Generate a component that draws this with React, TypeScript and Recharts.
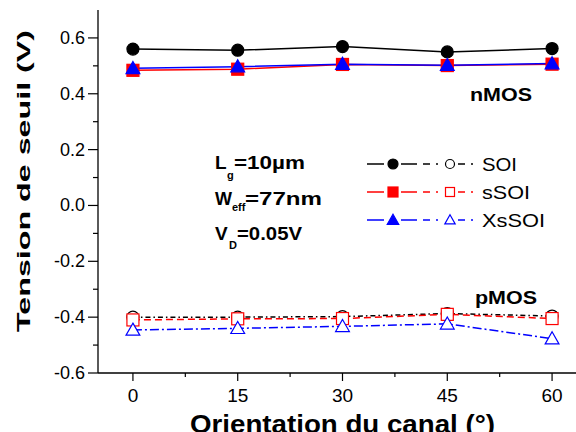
import React from "react";
import { LineChart, Line, XAxis, YAxis } from "recharts";

// Orientation du canal (°)
const angles = [0, 15, 30, 45, 60];

// nMOS threshold voltages (V)
const soiN = [0.56, 0.556, 0.569, 0.55, 0.562];
const ssoiN = [0.484, 0.488, 0.505, 0.501, 0.506];
const xssoiN = [0.491, 0.497, 0.506, 0.502, 0.508];

// pMOS threshold voltages (V)
const soiP = [-0.4, -0.4, -0.398, -0.387, -0.396];
const ssoiP = [-0.41, -0.406, -0.405, -0.39, -0.405];
const xssoiP = [-0.446, -0.44, -0.433, -0.424, -0.477];

const xTicks = [0, 7.5, 15, 22.5, 30, 37.5, 45, 52.5, 60];
const yTicks = [-0.6, -0.5, -0.4, -0.3, -0.2, -0.1, 0, 0.1, 0.2, 0.3, 0.4, 0.5, 0.6];

const FONT = "'Liberation Sans', Arial, sans-serif";
const BLACK = "#000000";
const RED = "#ff0000";
const BLUE = "#0000ff";

const data = angles.map((a, i) => ({
  angle: a,
  soiN: soiN[i],
  ssoiN: ssoiN[i],
  xssoiN: xssoiN[i],
  soiP: soiP[i],
  ssoiP: ssoiP[i],
  xssoiP: xssoiP[i],
}));

type Shape = "circle" | "square" | "triangle";

function Marker({ shape, cx, cy, color, filled, r = 6 }: { shape: Shape; cx: number; cy: number; color: string; filled: boolean; r?: number }) {
  const fill = filled ? color : "#ffffff";
  if (shape === "circle") {
    return <circle cx={cx} cy={cy} r={r} fill={fill} stroke={color} strokeWidth={1.2} />;
  }
  if (shape === "square") {
    return <rect x={cx - r} y={cy - r} width={2 * r} height={2 * r} fill={fill} stroke={color} strokeWidth={1.2} />;
  }
  const h = r * 1.15;
  return (
    <polygon
      points={`${cx},${cy - h} ${cx + h},${cy + h * 0.75} ${cx - h},${cy + h * 0.75}`}
      fill={fill}
      stroke={color}
      strokeWidth={1.2}
    />
  );
}

function makeDot(shape: Shape, color: string, filled: boolean) {
  return (props: any) => {
    const { cx, cy, index } = props;
    return <Marker key={`dot-${index}`} shape={shape} cx={cx} cy={cy} color={color} filled={filled} />;
  };
}

function XTick(props: any) {
  const { x, y, payload } = props;
  const major = payload.value % 15 === 0;
  return (
    <g>
      <line x1={x} x2={x} y1={y} y2={y + (major ? 8 : 4)} stroke={BLACK} strokeWidth={1.2} />
      {major && (
        <text x={x} y={y + 29} textAnchor="middle" fontSize={19} fontFamily={FONT} fill={BLACK}>
          {payload.value}
        </text>
      )}
    </g>
  );
}

function YTick(props: any) {
  const { x, y, payload } = props;
  const major = Math.round(payload.value * 10) % 2 === 0;
  return (
    <g>
      <line x1={x - (major ? 10 : 5)} x2={x} y1={y} y2={y} stroke={BLACK} strokeWidth={1.2} />
      {major && (
        <text x={x - 13} y={y + 6} textAnchor="end" fontSize={18} fontFamily={FONT} fill={BLACK}>
          {payload.value.toFixed(1)}
        </text>
      )}
    </g>
  );
}

function LegendRow({ y, color, shape, label, width }: { y: number; color: string; shape: Shape; label: string; width: number }) {
  return (
    <g>
      <line x1={367} x2={384} y1={y} y2={y} stroke={color} strokeWidth={1.5} />
      <line x1={401} x2={417} y1={y} y2={y} stroke={color} strokeWidth={1.5} />
      <Marker shape={shape} cx={393} cy={y} color={color} filled r={5} />
      <line x1={423} x2={430} y1={y} y2={y} stroke={color} strokeWidth={1.5} />
      <line x1={436} x2={438} y1={y} y2={y} stroke={color} strokeWidth={1.5} />
      <Marker shape={shape} cx={450} cy={y} color={color} filled={false} r={4.5} />
      <line x1={458} x2={465} y1={y} y2={y} stroke={color} strokeWidth={1.5} />
      <line x1={471} x2={473} y1={y} y2={y} stroke={color} strokeWidth={1.5} />
      <text x={482} y={y + 7} fontSize={19} fontFamily={FONT} fill={BLACK} textLength={width} lengthAdjust="spacingAndGlyphs">
        {label}
      </text>
    </g>
  );
}

export default function App() {
  return (
    <div style={{ position: "absolute", left: 0, top: 0, width: 576, height: 432, overflow: "hidden", background: "#fff" }}>
      <LineChart width={600} height={432} data={data} margin={{ top: 10, right: 13, left: 0, bottom: 0 }}>
        <XAxis
          dataKey="angle"
          type="number"
          domain={[-5, 65]}
          ticks={xTicks}
          interval={0}
          allowDataOverflow
          height={59}
          tickSize={0}
          tickMargin={0}
          tickLine={false}
          tick={(p: any) => <XTick {...p} />}
          axisLine={{ stroke: BLACK, strokeWidth: 1.3 }}
        />
        <YAxis
          type="number"
          domain={[-0.6, 0.7]}
          ticks={yTicks}
          interval={0}
          allowDataOverflow
          width={98}
          tickSize={0}
          tickMargin={0}
          tickLine={false}
          tick={(p: any) => <YTick {...p} />}
          axisLine={{ stroke: BLACK, strokeWidth: 1.3 }}
        />
        <Line type="linear" dataKey="soiN" stroke={BLACK} strokeWidth={1.5} dot={makeDot("circle", BLACK, true)} activeDot={false} isAnimationActive={false} />
        <Line type="linear" dataKey="ssoiN" stroke={RED} strokeWidth={1.5} dot={makeDot("square", RED, true)} activeDot={false} isAnimationActive={false} />
        <Line type="linear" dataKey="xssoiN" stroke={BLUE} strokeWidth={1.5} dot={makeDot("triangle", BLUE, true)} activeDot={false} isAnimationActive={false} />
        <Line type="linear" dataKey="soiP" stroke={BLACK} strokeWidth={1.5} strokeDasharray="5 3 1.5 3" dot={makeDot("circle", BLACK, false)} activeDot={false} isAnimationActive={false} />
        <Line type="linear" dataKey="ssoiP" stroke={RED} strokeWidth={1.5} strokeDasharray="7 4" dot={makeDot("square", RED, false)} activeDot={false} isAnimationActive={false} />
        <Line type="linear" dataKey="xssoiP" stroke={BLUE} strokeWidth={1.5} strokeDasharray="9 3 2 3" dot={makeDot("triangle", BLUE, false)} activeDot={false} isAnimationActive={false} />
      </LineChart>

      <svg width={576} height={432} style={{ position: "absolute", left: 0, top: 0, pointerEvents: "none" }}>
        <text
          transform="translate(30,181) rotate(-90)"
          textAnchor="middle"
          fontSize={19}
          fontWeight="bold"
          fontFamily={FONT}
          textLength={302}
          lengthAdjust="spacingAndGlyphs"
        >
          Tension de seuil (V)
        </text>
        <text x={190} y={433} fontSize={25} fontWeight="bold" fontFamily={FONT} textLength={305} lengthAdjust="spacingAndGlyphs">
          Orientation du canal (°)
        </text>

        <text x={470} y={101} fontSize={19} fontWeight="bold" fontFamily={FONT} textLength={62} lengthAdjust="spacingAndGlyphs">
          nMOS
        </text>
        <text x={475} y={304} fontSize={19} fontWeight="bold" fontFamily={FONT} textLength={62} lengthAdjust="spacingAndGlyphs">
          pMOS
        </text>

        <g fontWeight="bold" fontFamily={FONT} fill={BLACK}>
          <text x={215} y={169} fontSize={19}>L</text>
          <text x={227} y={179} fontSize={11}>g</text>
          <text x={234} y={169} fontSize={19} textLength={71} lengthAdjust="spacingAndGlyphs">=10µm</text>

          <text x={215} y={205} fontSize={19} textLength={17} lengthAdjust="spacingAndGlyphs">W</text>
          <text x={232} y={211} fontSize={11}>eff</text>
          <text x={245} y={205} fontSize={19} textLength={77} lengthAdjust="spacingAndGlyphs">=77nm</text>

          <text x={215} y={240} fontSize={19}>V</text>
          <text x={229} y={249} fontSize={11}>D</text>
          <text x={237} y={240} fontSize={19} textLength={65} lengthAdjust="spacingAndGlyphs">=0.05V</text>
        </g>

        <LegendRow y={164} color={BLACK} shape="circle" label="SOI" width={35} />
        <LegendRow y={192} color={RED} shape="square" label="sSOI" width={48} />
        <LegendRow y={220} color={BLUE} shape="triangle" label="XsSOI" width={63} />
      </svg>
    </div>
  );
}
